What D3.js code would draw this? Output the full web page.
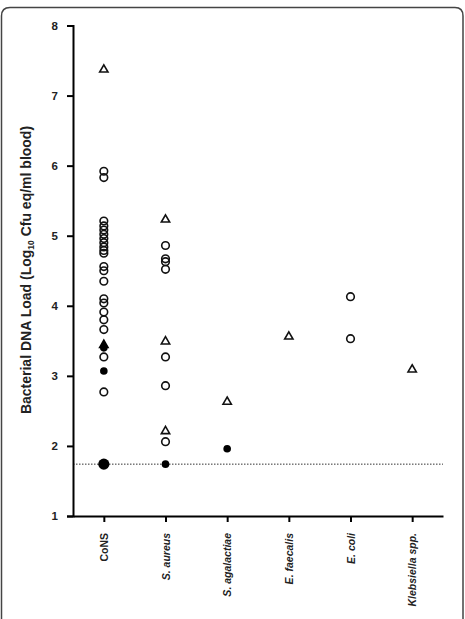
<!DOCTYPE html>
<html>
<head>
<meta charset="utf-8">
<script src="https://cdn.jsdelivr.net/npm/d3@7"></script>
<style>
  html, body { margin: 0; padding: 0; background: #fff; }
  svg { display: block; font-family: "Liberation Sans", Arial, sans-serif; }
</style>
</head>
<body>
<svg id="chart" width="465" height="619"></svg>
<script>
const categories = ["CoNS", "S. aureus", "S. agalactiae", "E. faecalis", "E. coli", "Klebsiella spp."];
const italicCats = [false, true, true, true, true, true];
const yTicks = [1, 2, 3, 4, 5, 6, 7, 8];
const detectionLimit = 1.74;

// open circles per category
const openCircles = [
  [5.92, 5.83, 5.21, 5.14, 5.08, 5.02, 4.96, 4.90, 4.84, 4.79, 4.75,
   4.56, 4.50, 4.35, 4.10, 4.04, 3.91, 3.80, 3.66, 3.27, 2.77],
  [4.86, 4.67, 4.63, 4.52, 3.27, 2.86, 2.06],
  [],
  [],
  [4.13, 3.53],
  []
];
// filled circles per category (above detection limit)
const filledCircles = [
  [3.40, 3.07],
  [],
  [1.96],
  [],
  [],
  []
];
// number of samples at the detection limit per category
const limitCounts = [3, 1, 0, 0, 0, 0];
const openTriangles = [
  [7.37],
  [5.23, 3.49, 2.21],
  [2.63],
  [3.56],
  [],
  [3.09]
];
const filledTriangles = [
  [3.44],
  [],
  [],
  [],
  [],
  []
];

const svg = d3.select("#chart");
const margin = { left: 73, right: 22, top: 25.5, bottom: 103 };

// frame
svg.append("path")
  .attr("d", "M1.5,640 L1.5,16 Q1.5,7.5 10,7.5 L455,7.5 Q463,7.5 463,16 L463,640")
  .attr("fill", "none").attr("stroke", "#444").attr("stroke-width", 1.5);

const x = d3.scalePoint().domain(categories).range([margin.left, 443]).padding(0.5);
const y = d3.scaleLinear().domain([1, 8]).range([516, margin.top]);

// dotted detection limit
svg.append("line")
  .attr("x1", margin.left).attr("x2", 443)
  .attr("y1", y(detectionLimit)).attr("y2", y(detectionLimit))
  .attr("stroke", "#333").attr("stroke-width", 1).attr("stroke-dasharray", "1.5,1.5");

// y axis
const yAxis = svg.append("g").attr("transform", `translate(${margin.left},0)`)
  .call(d3.axisLeft(y).tickValues(yTicks).tickFormat(d3.format("d")).tickSize(6).tickPadding(9));
yAxis.select(".domain").attr("stroke", "#000").attr("stroke-width", 2);
yAxis.selectAll(".tick line").attr("stroke", "#000").attr("stroke-width", 2);
yAxis.selectAll(".tick text").attr("font-size", 11.5).attr("font-weight", "bold")
  .attr("font-family", "Liberation Sans, Arial, sans-serif").attr("fill", "#222");

// x axis
const xAxis = svg.append("g").attr("transform", `translate(0,516)`)
  .call(d3.axisBottom(x).tickSize(6).tickSizeOuter(0).tickPadding(10));
xAxis.select(".domain").attr("stroke", "#000").attr("stroke-width", 2);
xAxis.selectAll(".tick line").attr("stroke", "#000").attr("stroke-width", 2);
xAxis.selectAll(".tick text")
  .attr("font-size", 10.5).attr("font-weight", "bold")
  .attr("font-family", "Liberation Sans, Arial, sans-serif").attr("fill", "#222")
  .attr("font-style", (d, i) => italicCats[i] ? "italic" : "normal")
  .attr("text-anchor", "end")
  .attr("transform", "rotate(-90)")
  .attr("x", -17).attr("y", 0).attr("dy", "0.35em");

// y title
const title = svg.append("text")
  .attr("transform", `translate(31,270) rotate(-90)`)
  .attr("text-anchor", "middle")
  .attr("font-size", 14).attr("font-weight", "bold").attr("fill", "#222");
title.append("tspan").text("Bacterial DNA Load (Log");
title.append("tspan").attr("font-size", 8.5).attr("dy", 3).text("10");
title.append("tspan").attr("dy", -3).text(" Cfu eq/ml blood)");

const g = svg.append("g");
function flat(arr) {
  const out = [];
  arr.forEach((vals, i) => vals.forEach(v => out.push({ c: categories[i], v })));
  return out;
}

// open circles
g.selectAll(".oc").data(flat(openCircles)).join("circle")
  .attr("cx", d => x(d.c)).attr("cy", d => y(d.v)).attr("r", 3.8)
  .attr("fill", "none").attr("stroke", "#111").attr("stroke-width", 1.6);

// filled circles
g.selectAll(".fc").data(flat(filledCircles)).join("circle")
  .attr("cx", d => x(d.c)).attr("cy", d => y(d.v)).attr("r", 3.8)
  .attr("fill", "#000");

// detection-limit points
const lim = categories.map((c, i) => ({ c, n: limitCounts[i] })).filter(d => d.n > 0);
g.selectAll(".lim").data(lim).join("circle")
  .attr("cx", d => x(d.c)).attr("cy", y(detectionLimit))
  .attr("r", d => 3.8 + (d.n - 1) * 0.9)
  .attr("fill", "#000");

const tri = d3.symbol().type(d3.symbolTriangle).size(30);
g.selectAll(".ot").data(flat(openTriangles)).join("path")
  .attr("d", tri).attr("transform", d => `translate(${x(d.c)},${y(d.v)})`)
  .attr("fill", "none").attr("stroke", "#111").attr("stroke-width", 1.6);
g.selectAll(".ft").data(flat(filledTriangles)).join("path")
  .attr("d", tri).attr("transform", d => `translate(${x(d.c)},${y(d.v)})`)
  .attr("fill", "#000").attr("stroke", "#000").attr("stroke-width", 1.6);
</script>
</body>
</html>
